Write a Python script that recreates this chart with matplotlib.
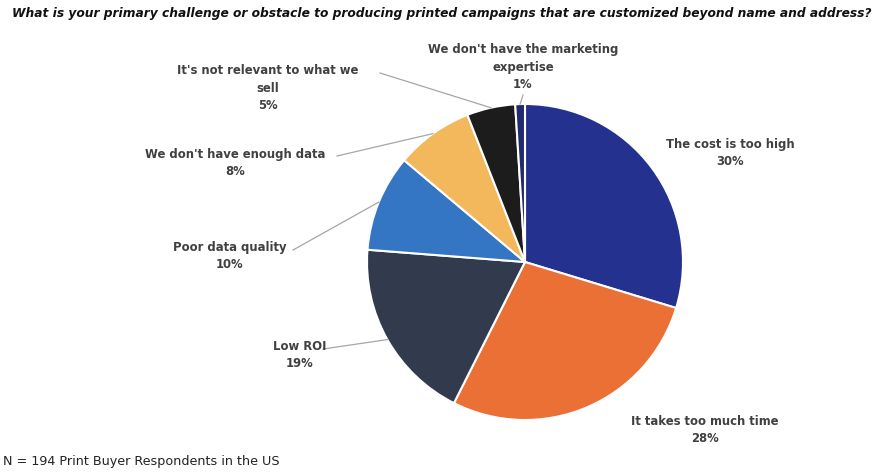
import matplotlib.pyplot as plt
import numpy as np

# Survey answers, clockwise from 12 o'clock
labels = ["The cost is too high", "It takes too much time", "Low ROI",
          "Poor data quality", "We don't have enough data",
          "It's not relevant to what we\nsell",
          "We don't have the marketing\nexpertise"]
values = [30, 28, 19, 10, 8, 5, 1]
colors = ["#24318f", "#eb7035", "#323b4e", "#3475c4", "#f2b85b",
          "#1c1c1c", "#1f2b6e"]

W, H = 879, 476
fig = plt.figure(figsize=(W / 100, H / 100), dpi=100)

# pie axes: centre (525, 262) px, radius ~158 px
cx, cy, r = 525, 262, 158
half = 170
ax = fig.add_axes([(cx - half) / W, (H - cy - half) / H, 2 * half / W, 2 * half / H])

wedges, _ = ax.pie(values, colors=colors, startangle=90, counterclock=False,
                   wedgeprops=dict(edgecolor='white', linewidth=1.5))
lim = half / r
ax.set_xlim(-lim, lim)
ax.set_ylim(-lim, lim)
ax.set_aspect('equal')
ax.axis('off')

# label text positions in pixels (centre of text block)
label_pos = [(730, 153), (705, 430), (300, 355), (230, 256),
             (235, 163), (268, 88), (523, 67)]
# where leader lines start (pixels), None for no leader
leader_start = [None, None, (323, 349), (293, 250), (337, 156), (380, 73), (523, 95)]

def px2data(x, y):
    return ((x - cx) / r, (cy - y) / r)

total = sum(values)
start = 90.0
for i, (lab, v) in enumerate(zip(labels, values)):
    theta = start - 360.0 * v / total / 2
    start -= 360.0 * v / total
    tx, ty = px2data(*label_pos[i])
    ax.text(tx, ty, f"{lab}\n{v}%", ha='center', va='center', fontsize=8.4,
            fontweight='bold', color='#404040', linespacing=1.45, clip_on=False)
    if leader_start[i] is not None:
        lx, ly = px2data(*leader_start[i])
        ex, ey = np.cos(np.radians(theta)), np.sin(np.radians(theta))
        ax.plot([lx, ex], [ly, ey], color='#a6a6a6', lw=0.9, clip_on=False)

fig.text(12 / W, 1 - 14 / H,
         "What is your primary challenge or obstacle to producing printed campaigns "
         "that are customized beyond name and address?",
         ha='left', va='center', fontsize=8.8, fontweight='bold', style='italic',
         color='#111111')
fig.text(3 / W, 1 - 462 / H, "N = 194 Print Buyer Respondents in the US",
         ha='left', va='center', fontsize=9.2, color='#222222')

fig.savefig("out.png", dpi=100)
